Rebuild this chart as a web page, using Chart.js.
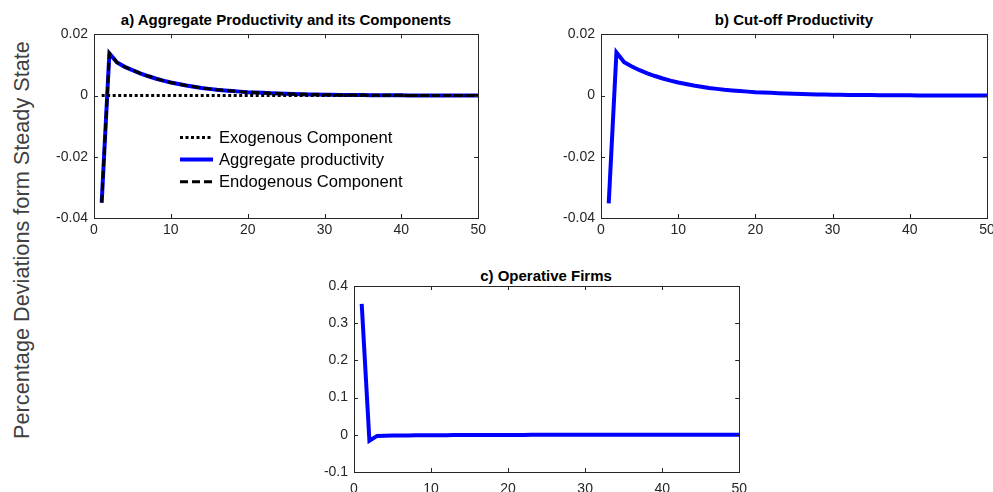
<!DOCTYPE html>
<html>
<head>
<meta charset="utf-8">
<script src="https://cdn.jsdelivr.net/npm/chart.js@4.4.1/dist/chart.umd.min.js"></script>
<style>
  html, body { margin: 0; padding: 0; background: #fff; overflow: hidden; width: 993px; height: 492px; }
  .box { position: absolute; }
  .ttl { position: absolute; font: bold 15px "Liberation Sans", Arial, sans-serif; color: #000; white-space: nowrap; transform: translateX(-50%); line-height: 17px; }
  #ylab { position: absolute; left: 22px; top: 240px; transform: translate(-50%, -50%) rotate(-90deg); font: 21.7px "Liberation Sans", Arial, sans-serif; color: #404040; white-space: nowrap; }
</style>
</head>
<body>
<div id="ylab">Percentage Deviations form Steady State</div>
<div class="ttl" style="left:286px; top:11px;">a) Aggregate Productivity and its Components</div>
<div class="ttl" style="left:794px; top:11px;">b) Cut-off Productivity</div>
<div class="ttl" style="left:546px; top:267px;">c) Operative Firms</div>
<div class="box" style="left:40px; top:20px;"><canvas id="cA" width="450" height="225"></canvas></div>
<div class="box" style="left:547px; top:20px;"><canvas id="cB" width="460" height="225"></canvas></div>
<div class="box" style="left:300px; top:270px;"><canvas id="cC" width="456" height="229"></canvas></div>
<script>
// periods 1..50
const periods = [];
for (let i = 1; i <= 50; i++) periods.push(i);

// a) aggregate productivity (= endogenous component)
const aggregateProd = [
  -0.0350, 0.0138, 0.0108, 0.0094, 0.0083, 0.0073, 0.0064, 0.0056, 0.0049, 0.0043,
  0.0038, 0.0033, 0.0029, 0.0025, 0.0022, 0.0019, 0.0017, 0.0015, 0.0013, 0.0011,
  0.0010, 0.0009, 0.0008, 0.0007, 0.0006, 0.0005, 0.00045, 0.0004, 0.00035, 0.0003,
  0.00026, 0.00023, 0.0002, 0.00018, 0.00016, 0.00014, 0.00012, 0.0001, 0.00009, 0.00008,
  0.00007, 0.00006, 0.00005, 0.00005, 0.00004, 0.00004, 0.00003, 0.00003, 0.00003, 0.00002
];
const endogenousComp = [
  -0.0350, 0.0138, 0.0108, 0.0094, 0.0083, 0.0073, 0.0064, 0.0056, 0.0049, 0.0043,
  0.0038, 0.0033, 0.0029, 0.0025, 0.0022, 0.0019, 0.0017, 0.0015, 0.0013, 0.0011,
  0.0010, 0.0009, 0.0008, 0.0007, 0.0006, 0.0005, 0.00045, 0.0004, 0.00035, 0.0003,
  0.00026, 0.00023, 0.0002, 0.00018, 0.00016, 0.00014, 0.00012, 0.0001, 0.00009, 0.00008,
  0.00007, 0.00006, 0.00005, 0.00005, 0.00004, 0.00004, 0.00003, 0.00003, 0.00003, 0.00002
];
const exogenousComp = [
  0, 0, 0, 0, 0, 0, 0, 0, 0, 0,
  0, 0, 0, 0, 0, 0, 0, 0, 0, 0,
  0, 0, 0, 0, 0, 0, 0, 0, 0, 0,
  0, 0, 0, 0, 0, 0, 0, 0, 0, 0,
  0, 0, 0, 0, 0, 0, 0, 0, 0, 0
];

// b) cut-off productivity
const cutoffProd = [
  -0.0352, 0.0141, 0.0109, 0.0095, 0.0083, 0.0073, 0.0064, 0.0056, 0.0049, 0.0043,
  0.0038, 0.0033, 0.0029, 0.0025, 0.0022, 0.0019, 0.0017, 0.0015, 0.0013, 0.0011,
  0.0010, 0.0009, 0.0008, 0.0007, 0.0006, 0.0005, 0.00045, 0.0004, 0.00035, 0.0003,
  0.00026, 0.00023, 0.0002, 0.00018, 0.00016, 0.00014, 0.00012, 0.0001, 0.00009, 0.00008,
  0.00007, 0.00006, 0.00005, 0.00005, 0.00004, 0.00004, 0.00003, 0.00003, 0.00003, 0.00002
];

// c) operative firms
const operativeFirms = [
  0.352, -0.016, -0.003, -0.0025, -0.002, -0.0018, -0.0016, -0.0014, -0.0012, -0.0011,
  -0.001, -0.0009, -0.0008, -0.0007, -0.0006, -0.0005, -0.0005, -0.0004, -0.0004, -0.0003,
  -0.0003, -0.0003, -0.0002, -0.0002, -0.0002, -0.0002, -0.0001, -0.0001, -0.0001, -0.0001,
  -0.0001, -0.0001, -0.0001, 0, 0, 0, 0, 0, 0, 0,
  0, 0, 0, 0, 0, 0, 0, 0, 0, 0
];

const xTicks = [0, 10, 20, 30, 40, 50];
const yTicksAB = [-0.04, -0.02, 0, 0.02];
const yTicksC = [-0.1, 0, 0.1, 0.2, 0.3, 0.4];
const legendLabels = ["Exogenous Component", "Aggregate productivity", "Endogenous Component"];

const FONT = '"Liberation Sans", Arial, sans-serif';
const AXC = '#262626';

function pts(ys) { return periods.map((p, i) => ({ x: p, y: ys[i] })); }

// MATLAB-like box with inward ticks
const boxPlugin = {
  id: 'mbox',
  afterDraw(chart) {
    const { ctx, chartArea: a, scales } = chart;
    ctx.save();
    ctx.strokeStyle = AXC;
    ctx.lineWidth = 1;
    ctx.strokeRect(Math.round(a.left) + 0.5, Math.round(a.top) + 0.5, Math.round(a.right - a.left), Math.round(a.bottom - a.top));
    ctx.beginPath();
    scales.x.ticks.forEach(t => {
      const px = Math.round(scales.x.getPixelForValue(t.value)) + 0.5;
      ctx.moveTo(px, a.bottom); ctx.lineTo(px, a.bottom - 4);
      ctx.moveTo(px, a.top); ctx.lineTo(px, a.top + 4);
    });
    scales.y.ticks.forEach(t => {
      const py = Math.round(scales.y.getPixelForValue(t.value)) + 0.5;
      ctx.moveTo(a.left, py); ctx.lineTo(a.left + 4, py);
      ctx.moveTo(a.right, py); ctx.lineTo(a.right - 4, py);
    });
    ctx.stroke();
    ctx.restore();
  }
};

// legend drawn inside panel a
const legendPlugin = {
  id: 'inlegend',
  afterDraw(chart, args, opts) {
    if (!opts.items) return;
    const { ctx, chartArea: a } = chart;
    ctx.save();
    ctx.font = '16.6px ' + FONT;
    ctx.textBaseline = 'middle';
    opts.items.forEach((it, i) => {
      const y = a.top + 103 + i * 22.2;
      const x0 = a.left + 86;
      ctx.beginPath();
      ctx.strokeStyle = it.color;
      ctx.lineWidth = it.width;
      ctx.setLineDash(it.dash);
      ctx.moveTo(x0, y); ctx.lineTo(x0 + 33, y);
      ctx.stroke();
      ctx.setLineDash([]);
      ctx.fillStyle = '#000';
      ctx.fillText(it.text, x0 + 39, y + 1);
    });
    ctx.restore();
  }
};

function makeChart(id, datasets, yTicks, pad, xPad, legendItems) {
  return new Chart(document.getElementById(id), {
    type: 'line',
    data: { datasets: datasets },
    options: {
      responsive: false,
      animation: false,
      layout: { padding: pad },
      elements: { point: { radius: 0 }, line: { tension: 0 } },
      plugins: {
        legend: { display: false },
        tooltip: { enabled: false },
        inlegend: { items: legendItems }
      },
      scales: {
        x: {
          type: 'linear', min: 0, max: 50,
          grid: { display: false, drawTicks: false },
          border: { display: false },
          afterBuildTicks: s => { s.ticks = xTicks.map(v => ({ value: v })); },
          afterFit: s => { s.height = 25; },
          ticks: { padding: xPad, maxRotation: 0, color: AXC, font: { family: FONT, size: 14 }, callback: v => String(v) }
        },
        y: {
          min: yTicks[0], max: yTicks[yTicks.length - 1],
          grid: { display: false, drawTicks: false },
          border: { display: false },
          afterBuildTicks: s => { s.ticks = yTicks.map(v => ({ value: v })); },
          afterFit: s => { s.width = 54; },
          ticks: { padding: 6, color: AXC, font: { family: FONT, size: 14 }, callback: v => String(v) }
        }
      }
    },
    plugins: [boxPlugin, legendPlugin]
  });
}

// a)
makeChart('cA', [
  { label: legendLabels[2], data: pts(endogenousComp), borderColor: '#000', borderWidth: 3, borderDash: [8, 4] },
  { label: legendLabels[0], data: pts(exogenousComp), borderColor: '#000', borderWidth: 3, borderDash: [3, 2.5] },
  { label: legendLabels[1], data: pts(aggregateProd), borderColor: '#0000ff', borderWidth: 4 }
], yTicksAB, { left: 0, right: 11, top: 12, bottom: 2 }, 4, [
  { text: legendLabels[0], color: '#000', width: 3, dash: [3, 2.5] },
  { text: legendLabels[1], color: '#0000ff', width: 4, dash: [] },
  { text: legendLabels[2], color: '#000', width: 3, dash: [8, 4] }
]);

// b)
makeChart('cB', [
  { label: 'Cut-off Productivity', data: pts(cutoffProd), borderColor: '#0000ff', borderWidth: 4 }
], yTicksAB, { left: 0, right: 20, top: 12, bottom: 2 }, 4, null);

// c)
makeChart('cC', [
  { label: 'Operative Firms', data: pts(operativeFirms), borderColor: '#0000ff', borderWidth: 4 }
], yTicksC, { left: 0, right: 11, top: 16, bottom: 2 }, 9, null);
</script>
</body>
</html>
